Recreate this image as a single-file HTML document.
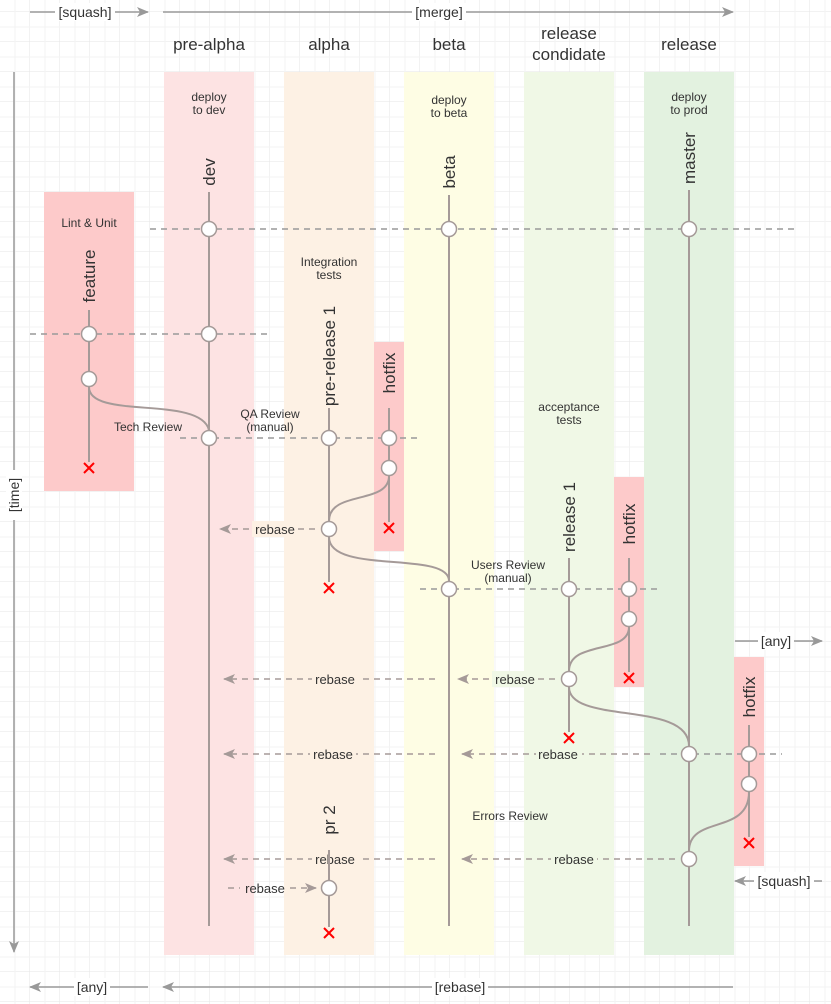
<!DOCTYPE html>
<html><head><meta charset="utf-8"><style>
html,body{margin:0;padding:0;background:#fff}
svg{display:block}
text{font-family:"Liberation Sans",sans-serif;fill:#333}
</style></head><body>
<svg width="831" height="1004" viewBox="0 0 831 1004" xmlns="http://www.w3.org/2000/svg">
<defs>
<pattern id="g" width="30" height="30" patternUnits="userSpaceOnUse" x="0" y="12">
<path d="M30 0V30M0 30H30" stroke="#e6e6e6" stroke-width="1" fill="none"/>
<path d="M15 0V30M0 15H30" stroke="#f3f3f3" stroke-width="1" fill="none"/>
</pattern>
<marker id="a" markerWidth="12" markerHeight="10" refX="11" refY="5" orient="auto" markerUnits="userSpaceOnUse"><path d="M0,0 L12,5 L0,10 L3,5z" fill="#999"/></marker>
<marker id="ad" markerWidth="12" markerHeight="10" refX="11" refY="5" orient="auto" markerUnits="userSpaceOnUse"><path d="M0,0 L12,5 L0,10 L3,5z" fill="#a59a98"/></marker>
</defs>
<rect width="831" height="1004" fill="url(#g)"/>
<rect x="164" y="72" width="90" height="883" fill="#fde3e3"/>
<rect x="284" y="72" width="90" height="883" fill="#fdf1e4"/>
<rect x="404" y="72" width="90" height="883" fill="#fefde4"/>
<rect x="524" y="72" width="90" height="883" fill="#f0f8e6"/>
<rect x="644" y="72" width="90" height="883" fill="#e3f2e0"/>
<rect x="44" y="192" width="90" height="299" fill="#fdcaca"/>
<rect x="374" y="342" width="30" height="209" fill="#fdcaca"/>
<rect x="614" y="477" width="30" height="210" fill="#fdcaca"/>
<rect x="734" y="657" width="30" height="209" fill="#fdcaca"/>
<g font-size="17" text-anchor="middle">
<text x="209" y="50">pre-alpha</text><text x="329" y="50">alpha</text><text x="449" y="50">beta</text>
<text x="569" y="39">release</text><text x="569" y="60">condidate</text><text x="689" y="50">release</text>
</g>
<g font-size="12" text-anchor="middle">
<text x="209" y="101">deploy</text><text x="209" y="114">to dev</text>
<text x="449" y="104">deploy</text><text x="449" y="117">to beta</text>
<text x="689" y="101">deploy</text><text x="689" y="114">to prod</text>
<text x="89" y="227">Lint &amp; Unit</text>
<text x="329" y="266">Integration</text><text x="329" y="279">tests</text>
<text x="148" y="431">Tech Review</text>
<text x="270" y="418">QA Review</text><text x="270" y="431">(manual)</text>
<text x="569" y="411">acceptance</text><text x="569" y="424">tests</text>
<text x="508" y="569">Users Review</text><text x="508" y="582">(manual)</text>
<text x="510" y="820">Errors Review</text>
</g>
<g stroke="#999" stroke-width="1.5" fill="none">
<line x1="30" y1="12" x2="148" y2="12" marker-end="url(#a)"/>
<line x1="163" y1="12" x2="733" y2="12" marker-end="url(#a)"/>
<line x1="14" y1="72" x2="14" y2="952" marker-end="url(#a)"/>
<line x1="148" y1="987" x2="30" y2="987" marker-end="url(#a)"/>
<line x1="733" y1="987" x2="163" y2="987" marker-end="url(#a)"/>
<line x1="735" y1="641" x2="822" y2="641" marker-end="url(#a)"/>
<line x1="822" y1="881" x2="735" y2="881" marker-end="url(#a)"/>
</g>
<g font-size="14" text-anchor="middle">
<rect x="55" y="3" width="60" height="18" fill="#fff"/><text x="85" y="17">[squash]</text>
<rect x="412" y="3" width="54" height="18" fill="#fff"/><text x="439" y="17">[merge]</text>
<rect x="74" y="978" width="36" height="18" fill="#fff"/><text x="92" y="992">[any]</text>
<rect x="432" y="978" width="56" height="18" fill="#fff"/><text x="460" y="992">[rebase]</text>
<rect x="758" y="632" width="36" height="18" fill="#fff"/><text x="776" y="646">[any]</text>
<rect x="754" y="872" width="60" height="18" fill="#fff"/><text x="784" y="886">[squash]</text>
<rect x="6" y="470" width="16" height="50" fill="#fff"/><text transform="translate(19,495) rotate(-90)">[time]</text>
</g>
<g stroke="#999" stroke-width="1.5" stroke-dasharray="6,5" fill="none">
<line x1="150" y1="229" x2="795" y2="229"/>
<line x1="30" y1="334" x2="270" y2="334"/>
<line x1="180" y1="438" x2="420" y2="438"/>
<line x1="420" y1="589" x2="660" y2="589"/>
<line x1="660" y1="754" x2="782" y2="754"/>
</g>
<g stroke="#a59a98" stroke-width="1.5" stroke-dasharray="6,5" fill="none">
<line x1="315" y1="529" x2="220" y2="529" marker-end="url(#ad)"/>
<line x1="435" y1="679" x2="224" y2="679" marker-end="url(#ad)"/>
<line x1="555" y1="679" x2="458" y2="679" marker-end="url(#ad)"/>
<line x1="435" y1="754" x2="224" y2="754" marker-end="url(#ad)"/>
<line x1="650" y1="754" x2="462" y2="754" marker-end="url(#ad)"/>
<line x1="435" y1="859" x2="224" y2="859" marker-end="url(#ad)"/>
<line x1="675" y1="859" x2="462" y2="859" marker-end="url(#ad)"/>
<line x1="228" y1="888" x2="240" y2="888"/>
<line x1="290" y1="888" x2="316" y2="888" marker-end="url(#ad)"/>
</g>
<g font-size="13" text-anchor="middle">
<rect x="252" y="521" width="46" height="16" fill="#fdf1e4"/><text x="275" y="534">rebase</text>
<rect x="312" y="671" width="46" height="16" fill="#fdf1e4"/><text x="335" y="684">rebase</text>
<rect x="492" y="671" width="46" height="16" fill="#f0f8e6"/><text x="515" y="684">rebase</text>
<rect x="310" y="746" width="46" height="16" fill="#fdf1e4"/><text x="333" y="759">rebase</text>
<rect x="536" y="746" width="46" height="16" fill="#f0f8e6"/><text x="558" y="759">rebase</text>
<rect x="312" y="851" width="46" height="16" fill="#fdf1e4"/><text x="335" y="864">rebase</text>
<rect x="551" y="851" width="46" height="16" fill="#f0f8e6"/><text x="574" y="864">rebase</text>
<text x="265" y="893">rebase</text>
</g>
<g stroke="#a59a98" stroke-width="2" fill="none">
<line x1="209" y1="192" x2="209" y2="926"/>
<line x1="449" y1="195" x2="449" y2="926"/>
<line x1="689" y1="190" x2="689" y2="926"/>
<line x1="89" y1="310" x2="89" y2="462"/>
<line x1="329" y1="408" x2="329" y2="582"/>
<line x1="389" y1="408" x2="389" y2="522"/>
<line x1="569" y1="558" x2="569" y2="732"/>
<line x1="629" y1="558" x2="629" y2="672"/>
<line x1="749" y1="725" x2="749" y2="837"/>
<line x1="329" y1="850" x2="329" y2="927"/>
<path d="M89,387 C89,420 200,395 209,430"/>
<path d="M329,521 C329,490 389,505 389,476"/>
<path d="M329,537 C329,575 449,550 449,581"/>
<path d="M569,671 C569,640 629,655 629,627"/>
<path d="M569,687 C569,725 689,700 689,746"/>
<path d="M689,851 C689,815 749,835 749,792"/>
</g>
<g font-size="17" text-anchor="middle">
<text transform="translate(215,172) rotate(-90)">dev</text>
<text transform="translate(455,172) rotate(-90)">beta</text>
<text transform="translate(695,158) rotate(-90)">master</text>
<text transform="translate(95,276) rotate(-90)">feature</text>
<text transform="translate(335,356) rotate(-90)">pre-release 1</text>
<text transform="translate(395,373) rotate(-90)">hotfix</text>
<text transform="translate(575,517) rotate(-90)">release 1</text>
<text transform="translate(635,524) rotate(-90)">hotfix</text>
<text transform="translate(755,697) rotate(-90)">hotfix</text>
<text transform="translate(335,820) rotate(-90)">pr 2</text>
</g>
<g fill="#fff" stroke="#a59a98" stroke-width="1.5">
<circle cx="209" cy="229" r="7.5"/><circle cx="449" cy="229" r="7.5"/><circle cx="689" cy="229" r="7.5"/>
<circle cx="89" cy="334" r="7.5"/><circle cx="209" cy="334" r="7.5"/><circle cx="89" cy="379" r="7.5"/>
<circle cx="209" cy="438" r="7.5"/><circle cx="329" cy="438" r="7.5"/><circle cx="389" cy="438" r="7.5"/>
<circle cx="389" cy="468" r="7.5"/><circle cx="329" cy="529" r="7.5"/>
<circle cx="449" cy="589" r="7.5"/><circle cx="569" cy="589" r="7.5"/><circle cx="629" cy="589" r="7.5"/>
<circle cx="629" cy="619" r="7.5"/><circle cx="569" cy="679" r="7.5"/>
<circle cx="689" cy="754" r="7.5"/><circle cx="749" cy="754" r="7.5"/><circle cx="749" cy="784" r="7.5"/>
<circle cx="689" cy="859" r="7.5"/><circle cx="329" cy="888" r="7.5"/>
</g>
<g stroke="#f00" stroke-width="2">
<path d="M84,463 l10,10 M94,463 l-10,10"/>
<path d="M384,523 l10,10 M394,523 l-10,10"/>
<path d="M324,583 l10,10 M334,583 l-10,10"/>
<path d="M624,673 l10,10 M634,673 l-10,10"/>
<path d="M564,733 l10,10 M574,733 l-10,10"/>
<path d="M744,838 l10,10 M754,838 l-10,10"/>
<path d="M324,928 l10,10 M334,928 l-10,10"/>
</g>
</svg>
</body></html>
